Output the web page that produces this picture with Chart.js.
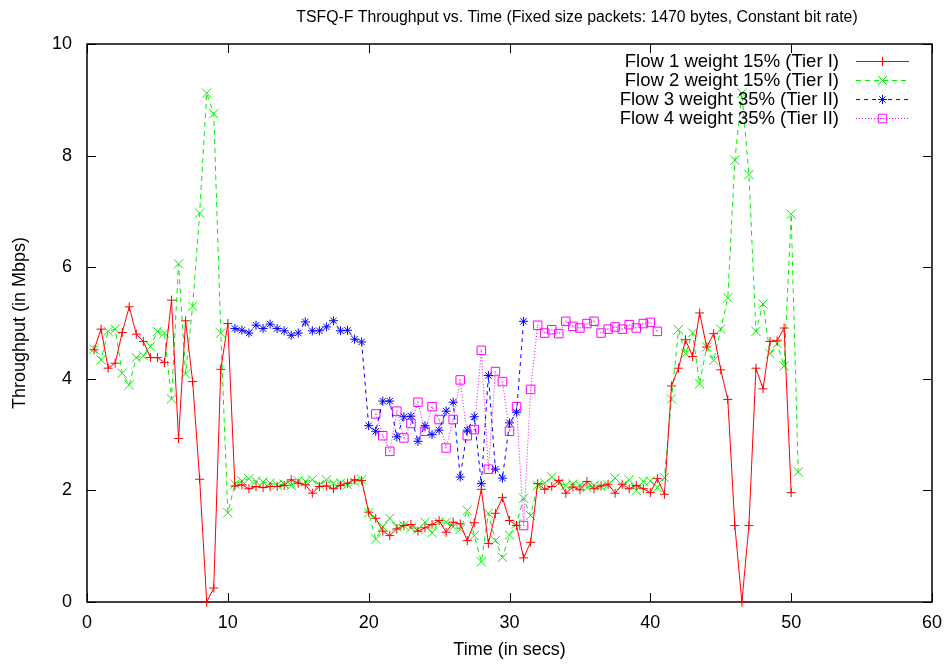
<!DOCTYPE html>
<html>
<head>
<meta charset="utf-8">
<script src="https://cdn.jsdelivr.net/npm/chart.js@4/dist/chart.umd.min.js"></script>
<style>
  html, body { margin: 0; padding: 0; background: #fff; }
  #wrap { width: 949px; height: 664px; position: relative; }
</style>
</head>
<body>
<div id="wrap"><canvas id="c"></canvas></div>
<script>
// Sample times (seconds)
const timeFlow12 = [
  0.5, 1, 1.5, 2, 2.5, 3, 3.5, 4, 4.5, 5, 5.5, 6, 6.5, 7, 7.5, 8, 8.5, 9, 9.5, 10,
  10.5, 11, 11.5, 12, 12.5, 13, 13.5, 14, 14.5, 15, 15.5, 16, 16.5, 17, 17.5, 18, 18.5, 19, 19.5, 20,
  20.5, 21, 21.5, 22, 22.5, 23, 23.5, 24, 24.5, 25, 25.5, 26, 26.5, 27, 27.5, 28, 28.5, 29, 29.5, 30,
  30.5, 31, 31.5, 32, 32.5, 33, 33.5, 34, 34.5, 35, 35.5, 36, 36.5, 37, 37.5, 38, 38.5, 39, 39.5, 40,
  40.5, 41, 41.5, 42, 42.5, 43, 43.5, 44, 44.5, 45, 45.5, 46, 46.5, 47, 47.5, 48, 48.5, 49, 49.5, 50,
  50.5
];
const timeFlow3 = [
  10.5, 11, 11.5, 12, 12.5, 13, 13.5, 14, 14.5, 15, 15.5, 16, 16.5, 17, 17.5, 18, 18.5, 19, 19.5, 20,
  20.5, 21, 21.5, 22, 22.5, 23, 23.5, 24, 24.5, 25, 25.5, 26, 26.5, 27, 27.5, 28, 28.5, 29, 29.5, 30,
  30.5, 31
];
const timeFlow4 = [
  20.5, 21, 21.5, 22, 22.5, 23, 23.5, 24, 24.5, 25, 25.5, 26, 26.5, 27, 27.5, 28, 28.5, 29, 29.5, 30,
  30.5, 31, 31.5, 32, 32.5, 33, 33.5, 34, 34.5, 35, 35.5, 36, 36.5, 37, 37.5, 38, 38.5, 39, 39.5, 40,
  40.5
];

// Throughput (Mbps)
const flow1 = [
  4.52, 4.89, 4.19, 4.28, 4.83, 5.29, 4.80, 4.67, 4.38, 4.38, 4.29, 5.41, 2.93, 5.04, 3.95, 2.20, 0.00, 0.25, 4.17, 4.99,
  2.08, 2.10, 2.03, 2.07, 2.05, 2.07, 2.07, 2.09, 2.19, 2.13, 2.10, 1.95, 2.07, 2.08, 2.03, 2.09, 2.13, 2.19, 2.18, 1.61,
  1.50, 1.27, 1.19, 1.31, 1.37, 1.39, 1.27, 1.33, 1.39, 1.46, 1.25, 1.43, 1.40, 1.10, 1.42, 2.02, 1.05, 1.59, 1.87, 1.46,
  1.37, 0.79, 1.07, 2.12, 2.02, 2.07, 2.18, 1.95, 2.06, 2.01, 2.16, 2.03, 2.08, 2.11, 1.95, 2.11, 2.03, 2.09, 2.03, 1.96,
  2.21, 1.93, 3.87, 4.19, 4.70, 4.40, 5.18, 4.57, 4.81, 4.16, 3.63, 1.37, 0.00, 1.37, 4.19, 3.82, 4.67, 4.68, 4.91, 1.96
];
const flow2 = [
  4.53, 4.34, 4.85, 4.89, 4.10, 3.89, 4.38, 4.41, 4.58, 4.85, 4.82, 3.64, 6.06, 4.09, 5.30, 6.97, 9.12, 8.75, 4.82, 1.60,
  2.11, 2.17, 2.21, 2.16, 2.15, 2.13, 2.10, 2.11, 2.09, 2.17, 2.16, 2.19, 2.10, 2.19, 2.13, 2.13, 2.10, 2.15, 2.19, 1.60,
  1.13, 1.35, 1.50, 1.35, 1.37, 1.33, 1.30, 1.43, 1.24, 1.43, 1.43, 1.35, 1.30, 1.64, 1.19, 0.72, 1.59, 1.10, 0.80, 1.20,
  1.40, 1.86, 1.55, 2.09, 2.13, 2.24, 2.13, 2.09, 2.11, 2.09, 2.05, 2.09, 2.07, 2.10, 2.22, 2.09, 2.19, 2.00, 2.16, 2.17,
  2.05, 2.23, 3.64, 4.88, 4.45, 4.82, 3.91, 4.57, 4.33, 4.89, 5.45, 7.92, 9.12, 7.66, 4.85, 5.34, 4.45, 4.63, 4.23, 6.95,
  2.33
];
const flow3 = [
  4.90, 4.87, 4.82, 4.96, 4.90, 4.98, 4.90, 4.86, 4.78, 4.82, 5.02, 4.86, 4.86, 4.93, 5.04, 4.86, 4.87, 4.71, 4.66, 3.16,
  3.06, 3.60, 3.60, 2.96, 3.32, 3.33, 2.88, 3.16, 3.00, 3.08, 3.42, 3.58, 2.24, 3.08, 3.32, 2.12, 4.06, 2.38, 2.22, 3.21,
  3.40, 5.03
];
const flow4 = [
  3.37, 2.98, 2.70, 3.42, 2.94, 3.20, 3.58, 3.06, 3.50, 3.27, 2.76, 3.27, 3.98, 2.98, 3.09, 4.51, 2.38, 4.13, 3.95, 3.06,
  3.50, 1.37, 3.81, 4.96, 4.82, 4.88, 4.81, 5.03, 4.94, 4.91, 4.99, 5.03, 4.82, 4.89, 4.93, 4.89, 4.97, 4.91, 4.99, 5.01,
  4.85
];

const seriesLabels = [
  'Flow 1 weight 15% (Tier I)',
  'Flow 2 weight 15% (Tier I)',
  'Flow 3 weight 35% (Tier II)',
  'Flow 4 weight 35% (Tier II)'
];
const xTickValues = [0, 10, 20, 30, 40, 50, 60];
const yTickValues = [0, 2, 4, 6, 8, 10];
const chartTitle = 'TSFQ-F Throughput vs. Time (Fixed size packets: 1470 bytes, Constant bit rate)';

const FONT = '"Liberation Sans", Arial, Helvetica, sans-serif';

function pairs(xs, ys) {
  return ys.map((y, i) => ({ x: xs[i], y: y }));
}

const styles = [
  { color: '#ff0000', dash: [], point: 'cross', radius: 4.5 },
  { color: '#00f000', dash: [5, 4], point: 'crossRot', radius: 6.5 },
  { color: '#0000ff', dash: [4, 4], point: 'star', radius: 4.5 },
  { color: '#ff00ff', dash: [1, 2], point: 'rect', radius: 6 }
];
const seriesData = [
  pairs(timeFlow12, flow1),
  pairs(timeFlow12, flow2),
  pairs(timeFlow3, flow3),
  pairs(timeFlow4, flow4)
];

const datasets = seriesData.map((d, i) => ({
  label: seriesLabels[i],
  data: d,
  borderColor: styles[i].color,
  backgroundColor: 'rgba(0,0,0,0)',
  borderWidth: 1,
  borderDash: styles[i].dash,
  pointStyle: styles[i].point,
  pointRadius: styles[i].radius,
  pointHoverRadius: styles[i].radius,
  pointBorderColor: styles[i].color,
  pointBackgroundColor: 'rgba(0,0,0,0)',
  pointBorderWidth: 1,
  tension: 0,
  clip: false
}));

// Frame with inward ticks on all four sides
const framePlugin = {
  id: 'frame',
  beforeDatasetsDraw(chart) {
    const { ctx, chartArea: a, scales } = chart;
    const len = 9;
    ctx.save();
    ctx.strokeStyle = '#000';
    ctx.lineWidth = 1;
    ctx.beginPath();
    xTickValues.forEach(v => {
      const px = Math.round(scales.x.getPixelForValue(v)) + 0.5;
      ctx.moveTo(px, a.bottom); ctx.lineTo(px, a.bottom - len);
      ctx.moveTo(px, a.top); ctx.lineTo(px, a.top + len);
    });
    yTickValues.forEach(v => {
      const py = Math.round(scales.y.getPixelForValue(v)) + 0.5;
      ctx.moveTo(a.left, py); ctx.lineTo(a.left + len, py);
      ctx.moveTo(a.right, py); ctx.lineTo(a.right - len, py);
    });
    ctx.stroke();
    ctx.lineWidth = 1.5;
    ctx.strokeRect(a.left, a.top, a.right - a.left, a.bottom - a.top);
    ctx.restore();
  }
};

// Title line above the plot
const titlePlugin = {
  id: 'topTitle',
  afterDraw(chart) {
    const { ctx } = chart;
    ctx.save();
    ctx.fillStyle = '#000';
    ctx.font = '15.8px ' + FONT;
    ctx.textAlign = 'center';
    ctx.textBaseline = 'middle';
    ctx.fillText(chartTitle, 577, 18);
    ctx.restore();
  }
};

// Key: right-aligned labels with line samples to their right
const keyPlugin = {
  id: 'key',
  afterDatasetsDraw(chart) {
    const { ctx } = chart;
    const textRight = 839, x0 = 856, x1 = 909, rowTop = 61, rowStep = 19;
    ctx.save();
    ctx.font = '18.5px ' + FONT;
    ctx.textAlign = 'right';
    ctx.textBaseline = 'middle';
    chart.data.datasets.forEach((ds, i) => {
      const y = rowTop + i * rowStep;
      ctx.fillStyle = '#000';
      ctx.fillText(ds.label, textRight, y + 1);
      ctx.strokeStyle = ds.borderColor;
      ctx.lineWidth = 1;
      ctx.setLineDash(ds.borderDash);
      ctx.beginPath();
      ctx.moveTo(x0, y + 0.5);
      ctx.lineTo(x1, y + 0.5);
      ctx.stroke();
      ctx.setLineDash([]);
      ctx.fillStyle = 'rgba(0,0,0,0)';
      Chart.helpers.drawPoint(ctx, {
        pointStyle: ds.pointStyle,
        radius: ds.pointRadius,
        borderWidth: 1,
        rotation: 0
      }, (x0 + x1) / 2, y + 0.5);
    });
    ctx.restore();
  }
};

// Centre dot inside each square marker of the fourth flow
const boxDotPlugin = {
  id: 'boxDot',
  afterDatasetsDraw(chart) {
    const meta = chart.getDatasetMeta(3);
    const { ctx } = chart;
    ctx.save();
    ctx.fillStyle = '#ff00ff';
    meta.data.forEach(p => ctx.fillRect(Math.round(p.x) - 0.5, Math.round(p.y) - 0.5, 1, 1));
    ctx.fillRect(882 - 0.5, 61 + 3 * 19, 1, 1);
    ctx.restore();
  }
};

new Chart(document.getElementById('c'), {
  type: 'line',
  data: { datasets },
  options: {
    responsive: true,
    maintainAspectRatio: false,
    animation: false,
    events: [],
    layout: { padding: { left: 0, right: 17, top: 44, bottom: 0 } },
    plugins: {
      legend: { display: false },
      title: { display: false },
      tooltip: { enabled: false }
    },
    scales: {
      x: {
        type: 'linear',
        min: 0, max: 60,
        afterBuildTicks(scale) { scale.ticks = xTickValues.map(v => ({ value: v })); },
        afterFit(scale) { scale.height = 62; },
        ticks: { color: '#000', font: { family: FONT, size: 18 }, padding: 2, maxRotation: 0, autoSkip: false },
        grid: { display: false },
        border: { display: false },
        title: { display: true, text: 'Time (in secs)', color: '#000', font: { family: FONT, size: 18 }, padding: { top: 0, bottom: 3 } }
      },
      y: {
        min: 0, max: 10,
        afterBuildTicks(scale) { scale.ticks = yTickValues.map(v => ({ value: v })); },
        afterFit(scale) { scale.width = 87; },
        ticks: { color: '#000', font: { family: FONT, size: 18 }, padding: 7 },
        grid: { display: false },
        border: { display: false },
        title: { display: true, text: 'Throughput (in Mbps)', color: '#000', font: { family: FONT, size: 18 }, padding: { top: 9, bottom: 0 } }
      }
    }
  },
  plugins: [framePlugin, titlePlugin, keyPlugin, boxDotPlugin]
});
</script>
</body>
</html>
